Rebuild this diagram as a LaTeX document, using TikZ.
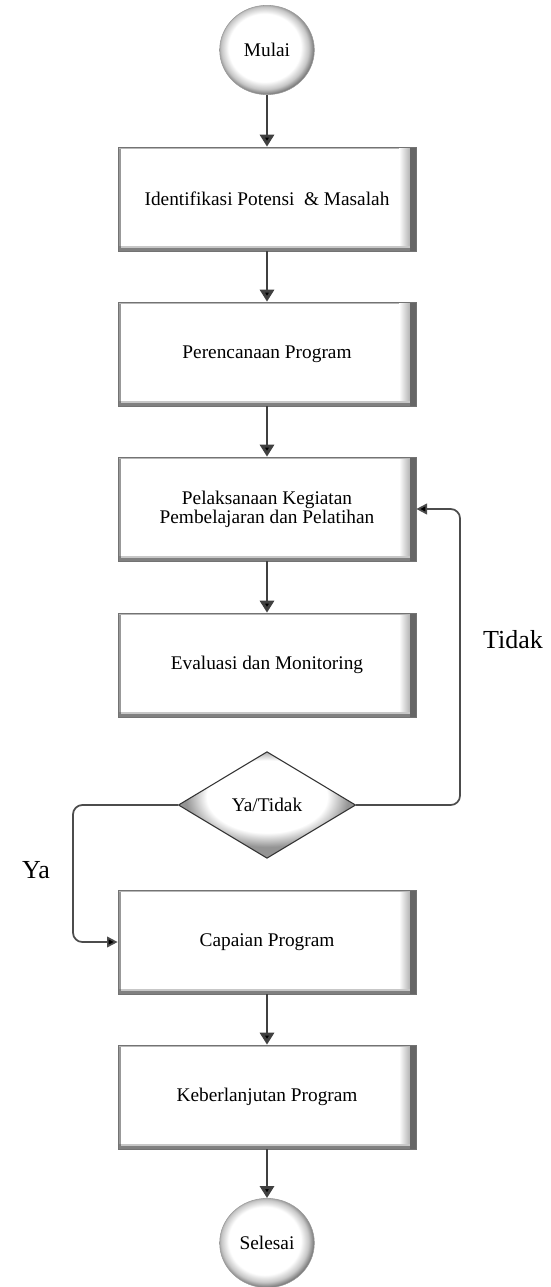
\documentclass[tikz,border=0pt]{standalone}
\usepackage{fontspec}
\setmainfont{Liberation Serif}
\usetikzlibrary{shapes.geometric, arrows.meta, calc}
\pgfdeclareradialshading{ballshade}{\pgfpoint{-2bp}{2bp}}{color(0bp)=(white); color(19bp)=(white); color(23bp)=(black!22); color(26bp)=(black!55); color(50bp)=(black!55)}
\pgfdeclareradialshading{diashade}{\pgfpoint{0bp}{6bp}}{color(0bp)=(white); color(17bp)=(white); color(23bp)=(black!42); color(50bp)=(black!42)}
\tikzset{
  bevelbox/.style={rectangle, minimum width=223.5pt, minimum height=78pt, inner sep=0pt,
    fill=white, draw=black!55, line width=0.5pt, align=center,
    font=\fontsize{14.5}{12}\selectfont,
    path picture={
      \fill[black!40] (path picture bounding box.north west) rectangle ($(path picture bounding box.south west)+(3,0)$);
      \fill[black!28] (path picture bounding box.north west) rectangle ($(path picture bounding box.north east)+(0,2)$);
      \shade[left color=white, right color=black!30] ($(path picture bounding box.north east)+(-17,2)$) rectangle ($(path picture bounding box.south east)+(-6,-5)$);
      \fill[black!60] ($(path picture bounding box.north east)+(-6,0)$) rectangle (path picture bounding box.south east);
      \fill[black!50] ($(path picture bounding box.south west)+(0,-5)$) rectangle ($(path picture bounding box.south east)+(-6,0)$);
      \fill[black!22] ($(path picture bounding box.south west)+(3,-5)$) rectangle ($(path picture bounding box.south east)+(-6,-3)$);
    }},
  startend/.style={ellipse, minimum width=71pt, minimum height=67pt, inner sep=0pt,
    shade, shading=ballshade, draw=black!40, line width=0.4pt,
    font=\fontsize{14.5}{17.5}\selectfont},
  decision/.style={diamond, minimum width=133pt, minimum height=80pt, inner sep=0pt,
    shade, shading=diashade, draw=black!80, line width=0.8pt,
    font=\fontsize{14.5}{17.5}\selectfont},
  flow/.style={draw=black!75, line width=2.2pt, -{Triangle[length=9pt,width=10.5pt,fill=black]}},
  loopline/.style={draw=black!70, line width=1.3pt, rounded corners=7pt, -{Triangle[length=8pt,width=8pt,fill=black]}},
  lbl/.style={font=\fontsize{19.5}{22}\selectfont, inner sep=0pt}
}
\begin{document}
\begin{tikzpicture}[x=0.75pt, y=-0.75pt]
\useasboundingbox (0,0) rectangle (550,1287);
\node[startend] (mulai) at (267,50) {Mulai};
\node[bevelbox] (b1) at (267,199) {Identifikasi Potensi~ \& Masalah};
\node[bevelbox] (b2) at (267,354) {Perencanaan Program};
\node[bevelbox] (b3) at (267,509) {Pelaksanaan Kegiatan\\Pembelajaran dan Pelatihan};
\node[bevelbox] (b4) at (267,665) {Evaluasi dan Monitoring};
\node[decision] (dia) at (267,805) {Ya/Tidak};
\node[bevelbox] (cap) at (267,942) {Capaian Program};
\node[bevelbox] (kb) at (267,1097) {Keberlanjutan Program};
\node[startend] (selesai) at (267,1243) {Selesai};
\coordinate (rc) at (460,0);
\coordinate (lc) at (73,0);
\draw[flow] (mulai) -- (b1);
\draw[flow] (b1) -- (b2);
\draw[flow] (b2) -- (b3);
\draw[flow] (b3) -- (b4);
\draw[flow] (cap) -- (kb);
\draw[flow] (kb) -- (selesai);
\draw[loopline] (dia.east) -- (dia.east -| rc) -- (b3.east -| rc) -- (b3.east);
\draw[loopline] (dia.west) -- (dia.west -| lc) -- (cap.west -| lc) -- (cap.west);
\node[lbl] (tidak) at (513,640) {Tidak};
\node[lbl] (ya) at (36,870) {Ya};
\end{tikzpicture}
\end{document}
